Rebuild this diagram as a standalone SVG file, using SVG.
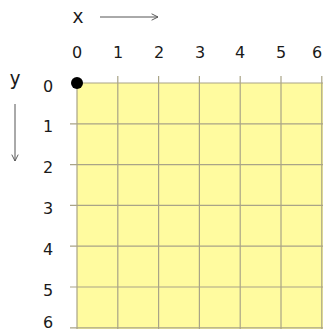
<svg xmlns="http://www.w3.org/2000/svg" width="323" height="331" viewBox="0 0 323 331">
<style>
.num{font-family:"DejaVu Sans","Liberation Sans",sans-serif;font-size:16px;fill:#1a1a1a;text-anchor:middle}
.axl{font-family:"DejaVu Sans Mono","Liberation Mono",monospace;font-size:19px;fill:#1a1a1a;text-anchor:middle}
.g{stroke:#a9a487;stroke-width:1.2;fill:none}
.ar{stroke:#555;stroke-width:1;fill:none}
</style>
<defs>
<marker id="ah" viewBox="0 0 10 10" refX="9" refY="5" markerWidth="8" markerHeight="8" orient="auto" markerUnits="userSpaceOnUse">
<path d="M1,1 L9,5 L1,9" fill="none" stroke="#555" stroke-width="1.2"/>
</marker>
</defs>
<g id="grid">
<rect x="77" y="83" width="246" height="246" fill="#fffb9f"/>
<path class="g" d="M77,83V329M117.8,76V329M158.6,76V329M199.4,76V329M240.2,76V329M281,76V329M321.8,76V329"/>
<path class="g" d="M77,83H323M70,123.8H323M70,164.6H323M70,205.4H323M70,246.2H323M70,287H323M70,327.8H323"/>
</g>
<g id="origin"><circle cx="77" cy="83" r="6" fill="#000"/></g>
<g id="xlabels">
<text class="num" x="77" y="58">0</text>
<text class="num" x="118" y="58">1</text>
<text class="num" x="159" y="58">2</text>
<text class="num" x="200" y="58">3</text>
<text class="num" x="240" y="58">4</text>
<text class="num" x="281" y="58">5</text>
<text class="num" x="317" y="58">6</text>
</g>
<g id="ylabels">
<text class="num" x="48" y="92">0</text>
<text class="num" x="48" y="132">1</text>
<text class="num" x="48" y="173">2</text>
<text class="num" x="48" y="214">3</text>
<text class="num" x="48" y="255">4</text>
<text class="num" x="48" y="296">5</text>
<text class="num" x="48" y="328">6</text>
</g>
<g id="axislabels">
<text class="axl" x="78" y="23">x</text>
<text class="axl" x="15" y="85">y</text>
</g>
<g id="connectors">
<line class="ar" x1="100" y1="17" x2="158" y2="17" marker-end="url(#ah)"/>
<line class="ar" x1="15" y1="104" x2="15" y2="161" marker-end="url(#ah)"/>
</g>
</svg>
